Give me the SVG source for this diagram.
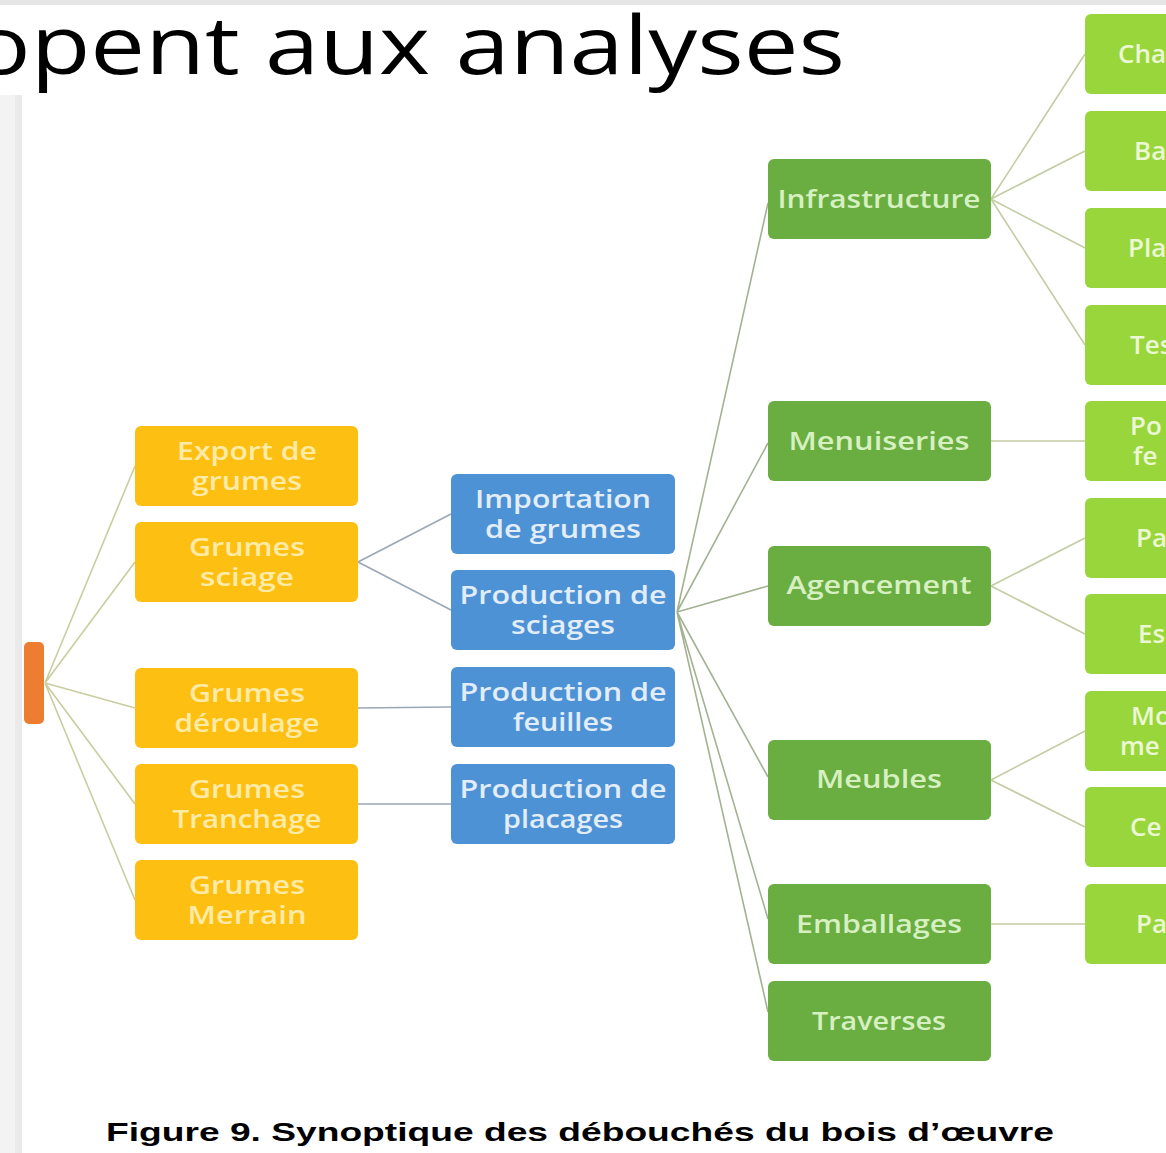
<svg xmlns="http://www.w3.org/2000/svg" width="1166" height="1153" viewBox="0 0 1166 1153">
<style>
.t{font-family:"Open Sans","DejaVu Sans",sans-serif;font-weight:600;font-size:26px;text-anchor:middle}
.ty{fill:#FFEBA8}.tb{fill:#E2EDF8}.tg{fill:#D6F0C2}.tl{fill:#ECF8D4}
.c1{stroke:#C9CD9E;stroke-width:1.6;fill:none}
.c2{stroke:#9AA7B6;stroke-width:1.6;fill:none}
.c3{stroke:#A3B292;stroke-width:1.6;fill:none}
.c4{stroke:#C2CDA4;stroke-width:1.6;fill:none}
.ny{fill:#FDBF12}.nb{fill:#4E92D6}.ng{fill:#6AAD40}.nl{fill:#98D63C}
</style>
<rect x="0" y="0" width="1166" height="1153" fill="#FFFFFF"/>
<rect x="0" y="0" width="1166" height="5" fill="#E6E6E6"/>
<rect x="0" y="95" width="22" height="1058" fill="#F3F3F3"/>
<rect x="15" y="95" width="7" height="1058" fill="#EAEAEA"/>
<text x="-28" y="74" font-family="Open Sans, DejaVu Sans, sans-serif" font-size="80" fill="#000000" textLength="873" lengthAdjust="spacingAndGlyphs">opent aux analyses</text>

<g id="connectors">
<path class="c1" d="M45 683 L135 466 M45 683 L135 562 M45 683 L135 708 M45 683 L135 804 M45 683 L135 900"/>
<path class="c2" d="M358 562 L451 514 M358 562 L451 610 M358 708 L451 707 M358 804 L451 804"/>
<path class="c3" d="M677 612 L768 203 M677 612 L768 443 M677 612 L768 586 M677 612 L768 777 M677 612 L768 919 M677 612 L768 1012"/>
<path class="c4" d="M991 199 L1085 54 M991 199 L1085 151 M991 199 L1085 248 M991 199 L1085 345 M991 441 L1085 441 M991 586 L1085 538 M991 586 L1085 634 M991 780 L1085 731 M991 780 L1085 827 M991 924 L1085 924"/>
</g>

<g id="root"><rect x="24" y="642" width="20" height="82" rx="5" fill="#ED7D31"/></g>

<g id="export"><rect class="ny" x="135" y="426" width="223" height="80" rx="6"/><text class="t ty" x="247" y="460" textLength="140" lengthAdjust="spacingAndGlyphs">Export de</text><text class="t ty" x="247" y="490" textLength="110" lengthAdjust="spacingAndGlyphs">grumes</text></g>
<g id="sciage"><rect class="ny" x="135" y="522" width="223" height="80" rx="6"/><text class="t ty" x="247" y="556" textLength="116" lengthAdjust="spacingAndGlyphs">Grumes</text><text class="t ty" x="247" y="586" textLength="94" lengthAdjust="spacingAndGlyphs">sciage</text></g>
<g id="deroulage"><rect class="ny" x="135" y="668" width="223" height="80" rx="6"/><text class="t ty" x="247" y="702" textLength="116" lengthAdjust="spacingAndGlyphs">Grumes</text><text class="t ty" x="247" y="732" textLength="145" lengthAdjust="spacingAndGlyphs">déroulage</text></g>
<g id="tranchage"><rect class="ny" x="135" y="764" width="223" height="80" rx="6"/><text class="t ty" x="247" y="798" textLength="116" lengthAdjust="spacingAndGlyphs">Grumes</text><text class="t ty" x="247" y="828" textLength="149" lengthAdjust="spacingAndGlyphs">Tranchage</text></g>
<g id="merrain"><rect class="ny" x="135" y="860" width="223" height="80" rx="6"/><text class="t ty" x="247" y="894" textLength="116" lengthAdjust="spacingAndGlyphs">Grumes</text><text class="t ty" x="247" y="924" textLength="119" lengthAdjust="spacingAndGlyphs">Merrain</text></g>

<g id="importation"><rect class="nb" x="451" y="474" width="224" height="80" rx="6"/><text class="t tb" x="563" y="508" textLength="176" lengthAdjust="spacingAndGlyphs">Importation</text><text class="t tb" x="563" y="538" textLength="156" lengthAdjust="spacingAndGlyphs">de grumes</text></g>
<g id="prod-sciages"><rect class="nb" x="451" y="570" width="224" height="80" rx="6"/><text class="t tb" x="563" y="604" textLength="207" lengthAdjust="spacingAndGlyphs">Production de</text><text class="t tb" x="563" y="634" textLength="104" lengthAdjust="spacingAndGlyphs">sciages</text></g>
<g id="prod-feuilles"><rect class="nb" x="451" y="667" width="224" height="80" rx="6"/><text class="t tb" x="563" y="701" textLength="207" lengthAdjust="spacingAndGlyphs">Production de</text><text class="t tb" x="563" y="731" textLength="100" lengthAdjust="spacingAndGlyphs">feuilles</text></g>
<g id="prod-placages"><rect class="nb" x="451" y="764" width="224" height="80" rx="6"/><text class="t tb" x="563" y="798" textLength="207" lengthAdjust="spacingAndGlyphs">Production de</text><text class="t tb" x="563" y="828" textLength="120" lengthAdjust="spacingAndGlyphs">placages</text></g>

<g id="infrastructure"><rect class="ng" x="768" y="159" width="223" height="80" rx="6"/><text class="t tg" x="879" y="208" textLength="203" lengthAdjust="spacingAndGlyphs">Infrastructure</text></g>
<g id="menuiseries"><rect class="ng" x="768" y="401" width="223" height="80" rx="6"/><text class="t tg" x="879" y="450" textLength="181" lengthAdjust="spacingAndGlyphs">Menuiseries</text></g>
<g id="agencement"><rect class="ng" x="768" y="546" width="223" height="80" rx="6"/><text class="t tg" x="879" y="594" textLength="185" lengthAdjust="spacingAndGlyphs">Agencement</text></g>
<g id="meubles"><rect class="ng" x="768" y="740" width="223" height="80" rx="6"/><text class="t tg" x="879" y="788" textLength="126" lengthAdjust="spacingAndGlyphs">Meubles</text></g>
<g id="emballages"><rect class="ng" x="768" y="884" width="223" height="80" rx="6"/><text class="t tg" x="879" y="933" textLength="166" lengthAdjust="spacingAndGlyphs">Emballages</text></g>
<g id="traverses"><rect class="ng" x="768" y="981" width="223" height="80" rx="6"/><text class="t tg" x="879" y="1030" textLength="134" lengthAdjust="spacingAndGlyphs">Traverses</text></g>

<g id="l1"><rect class="nl" x="1085" y="14" width="120" height="80" rx="6"/><text class="t tl" x="1118" y="63" style="text-anchor:start">Cha</text></g>
<g id="l2"><rect class="nl" x="1085" y="111" width="120" height="80" rx="6"/><text class="t tl" x="1134" y="160" style="text-anchor:start">Ba</text></g>
<g id="l3"><rect class="nl" x="1085" y="208" width="120" height="80" rx="6"/><text class="t tl" x="1128" y="257" style="text-anchor:start">Pla</text></g>
<g id="l4"><rect class="nl" x="1085" y="305" width="120" height="80" rx="6"/><text class="t tl" x="1130" y="354" style="text-anchor:start">Tes</text></g>
<g id="l5"><rect class="nl" x="1085" y="401" width="120" height="80" rx="6"/><text class="t tl" x="1130" y="435" style="text-anchor:start">Po</text><text class="t tl" x="1133" y="465" style="text-anchor:start">fe</text></g>
<g id="l6"><rect class="nl" x="1085" y="498" width="120" height="80" rx="6"/><text class="t tl" x="1136" y="547" style="text-anchor:start">Pa</text></g>
<g id="l7"><rect class="nl" x="1085" y="594" width="120" height="80" rx="6"/><text class="t tl" x="1138" y="643" style="text-anchor:start">Es</text></g>
<g id="l8"><rect class="nl" x="1085" y="691" width="120" height="80" rx="6"/><text class="t tl" x="1131" y="725" style="text-anchor:start">Mo</text><text class="t tl" x="1120" y="755" style="text-anchor:start">me</text></g>
<g id="l9"><rect class="nl" x="1085" y="787" width="120" height="80" rx="6"/><text class="t tl" x="1130" y="836" style="text-anchor:start">Ce</text></g>
<g id="l10"><rect class="nl" x="1085" y="884" width="120" height="80" rx="6"/><text class="t tl" x="1136" y="933" style="text-anchor:start">Pa</text></g>

<text x="580" y="1141" font-family="Liberation Sans, Arial, sans-serif" font-weight="bold" font-size="26" fill="#000000" text-anchor="middle" textLength="948" lengthAdjust="spacingAndGlyphs">Figure 9. Synoptique des débouchés du bois d’œuvre</text>
</svg>
